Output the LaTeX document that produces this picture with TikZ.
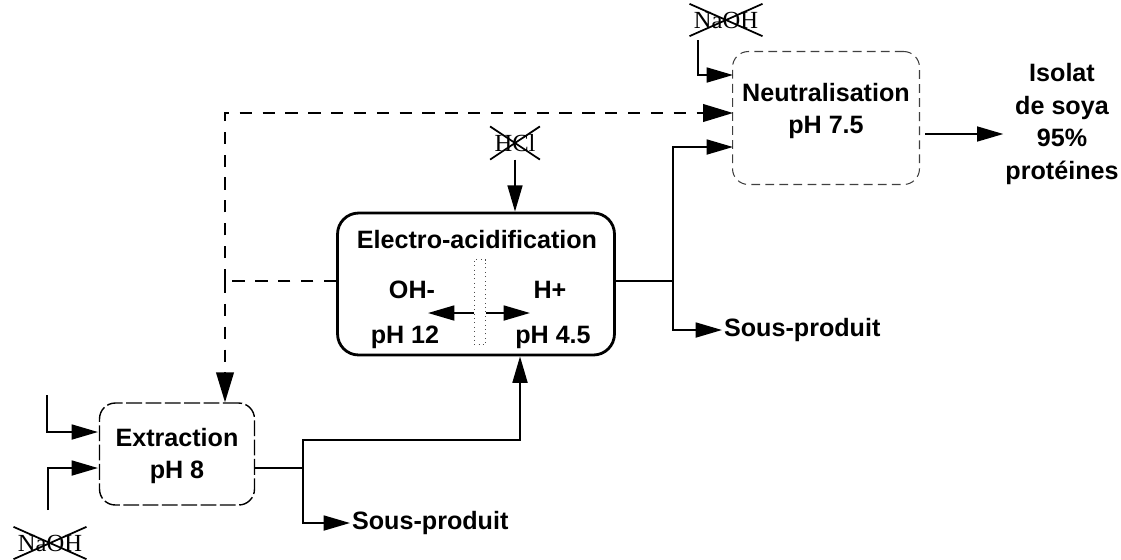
\documentclass[tikz,border=0pt]{standalone}
\usepackage{fontspec}
\setmainfont{Liberation Sans}
\newfontfamily\chemfont{Liberation Serif}
\usetikzlibrary{arrows.meta,shapes.misc}

\tikzset{
  flow/.style={line width=1.1pt,-{Triangle[length=15pt,width=8.5pt]}},
  link/.style={line width=1.1pt},
  loopline/.style={line width=1.1pt,dash pattern=on 7pt off 6pt},
  loopflow/.style={loopline,-{Triangle[length=17pt,width=10pt]}},
  lbl/.style={font=\bfseries\fontsize{14.3}{18.7}\selectfont,align=center,inner sep=1pt},
  struck/.style={cross out,draw,line width=1pt,inner xsep=2pt,inner ysep=4pt,
    font=\chemfont\fontsize{14}{16}\selectfont},
  neutbox/.style={draw=black!75,line width=0.6pt,dash pattern=on 5pt off 3pt,rounded corners=9pt},
  elecbox/.style={draw,line width=1.6pt,rounded corners=12pt},
  extrbox/.style={draw,line width=0.8pt,dash pattern=on 9pt off 2pt,rounded corners=9pt},
  membrane/.style={draw=black!70,line width=0.5pt,dotted}
}

\begin{document}
\begin{tikzpicture}[x=0.02cm,y=-0.02cm]
\useasboundingbox (0,0) rectangle (1121,559);

% process boxes
\node (neut) [neutbox,minimum width=3.74cm,minimum height=2.66cm] at (826,118) {};
\node (elec) [elecbox,minimum width=5.54cm,minimum height=2.84cm] at (476,284) {};
\node (extr) [extrbox,minimum width=3.1cm,minimum height=2.04cm] at (177,454) {};
\node (memb) [membrane,minimum width=0.22cm,minimum height=1.7cm] at (480,302) {};

% texts
\node (neuttxt) [lbl] at (826,111) {Neutralisation\\pH 7.5};
\node (electxt) [lbl] at (477,240) {Electro-acidification};
\node (oh) [lbl] at (412,290) {OH-};
\node (hplus) [lbl] at (550,290) {H+};
\node (ph12) [lbl] at (405,337) {pH 12};
\node (ph45) [lbl] at (553,337) {pH 4.5};
\node (extrtxt) [lbl] at (177,456) {Extraction\\pH 8};
\node (isolat) [lbl] at (1062,124) {Isolat\\de soya\\95\%\\protéines};
\node (sp1) [lbl,anchor=west] at (350,523) {Sous-produit};
\node (sp2) [lbl,anchor=west] at (722,330) {Sous-produit};
\node (naoha) [struck] at (726,20) {NaOH};
\node (hcl) [struck] at (515,143) {HCl};
\node (naohb) [struck] at (50,543) {NaOH};

% junctions and free ends
\coordinate (topfeed) at (698,40);
\coordinate (nIn1) at (733,75);
\coordinate (nIn2) at (733,113);
\coordinate (nIn3) at (733,147);
\coordinate (nOut) at (925,134);
\coordinate (loopM) at (225,281);
\coordinate (jA) at (673,281);
\coordinate (jE) at (303,468);
\coordinate (jEb) at (520,440);
\coordinate (xFeed1) at (47,395);
\coordinate (xFeed2) at (48,510);
\coordinate (xIn1) at (98,432);
\coordinate (xIn2) at (98,468);
\coordinate (ohEnd) at (428,313);
\coordinate (hEnd) at (530,313);

% neutralisation
\draw[flow] (topfeed) |- (nIn1);
\draw[flow] (nOut) -- (isolat.west |- nOut);

% electro-acidification
\draw[flow] (hcl.south) -- (elec.north -| hcl.south);
\draw[link] (elec.east |- jA) -- (jA);
\draw[flow] (jA) |- (nIn3);
\draw[flow] (jA) |- (sp2.west);
\draw[flow] (memb.west |- ohEnd) -- (ohEnd);
\draw[flow] (memb.east |- hEnd) -- (hEnd);

% recycle loop
\draw[loopline] (elec.west |- loopM) -- (loopM);
\draw[loopflow] (loopM) |- (nIn2);
\draw[loopflow] (loopM) -- (extr.north -| loopM);

% extraction
\draw[flow] (xFeed1) |- (xIn1);
\draw[flow] (xFeed2) |- (xIn2);
\draw[link] (extr.east |- jE) -- (jE);
\draw[flow] (jE) |- (jEb) -- (elec.south -| jEb);
\draw[flow] (jE) |- (sp1.west);
\end{tikzpicture}
\end{document}
